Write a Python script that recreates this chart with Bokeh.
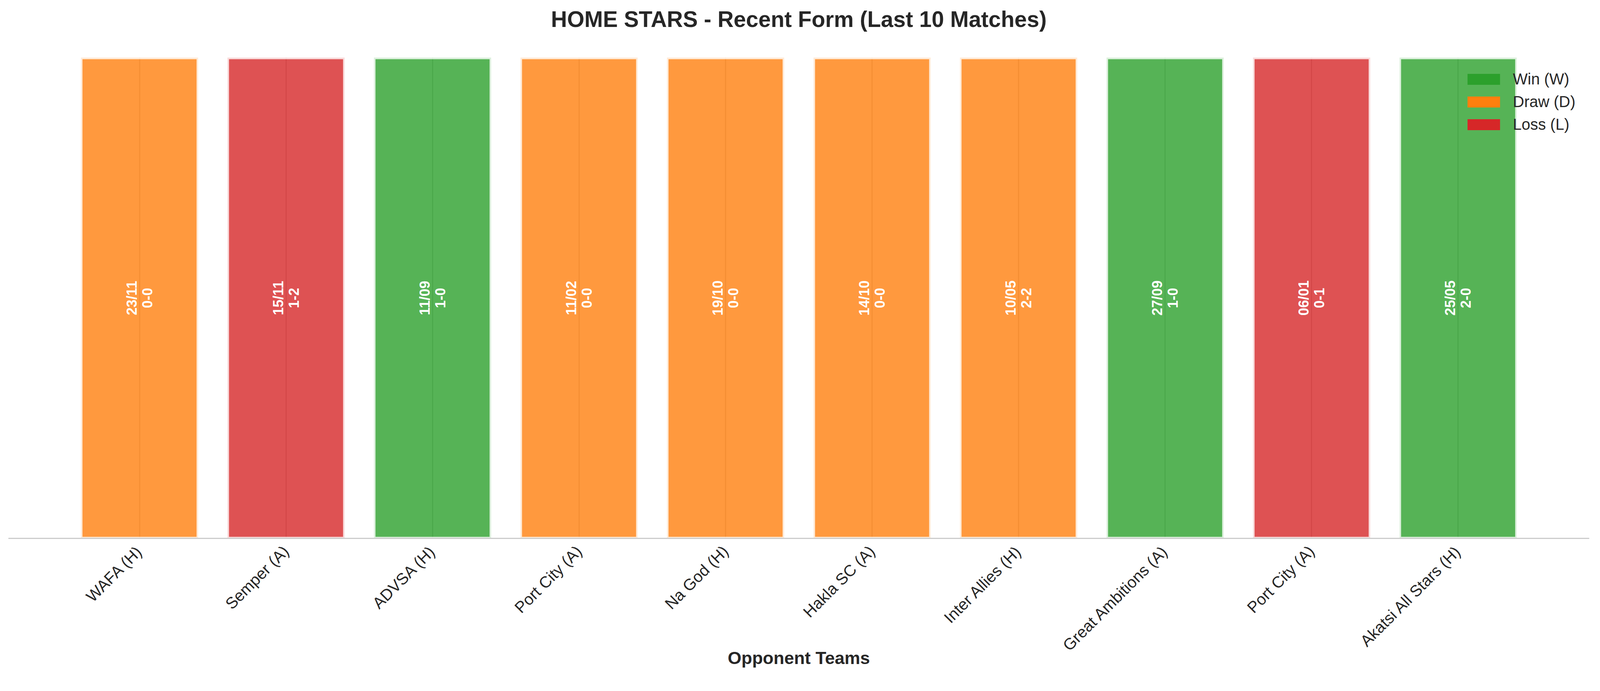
import math
from bokeh.plotting import figure
from bokeh.models import (Range1d, FixedTicker, Legend, LegendItem, ColumnDataSource, CDSView,
                          IndexFilter)
from bokeh.core.properties import value
from bokeh.embed import file_html
from bokeh.resources import INLINE

# ---- data ----
title_text = "HOME STARS - Recent Form (Last 10 Matches)"
opponents = ["WAFA (H)", "Semper (A)", "ADVSA (H)", "Port City (A)", "Na God (H)",
             "Hakla SC (A)", "Inter Allies (H)", "Great Ambitions (A)", "Port City (A)",
             "Akatsi All Stars (H)"]
dates = ["23/11", "15/11", "11/09", "11/02", "19/10", "14/10", "10/05", "27/09", "06/01", "25/05"]
scores = ["0-0", "1-2", "1-0", "0-0", "0-0", "0-0", "2-2", "1-0", "0-1", "2-0"]
results = ["D", "L", "W", "D", "D", "D", "D", "W", "L", "W"]
bar_heights = [1, 1, 1, 1, 1, 1, 1, 1, 1, 1]
result_order = ["W", "D", "L"]
result_names = {"W": "Win (W)", "D": "Draw (D)", "L": "Loss (L)"}
result_colors = {"W": "#2ca02c", "D": "#ff7f0e", "L": "#d62728"}

FONT = "Liberation Sans"
TXT = "#262626"

xs = list(range(len(opponents)))

p = figure(width=4084, height=1720, output_backend="svg", toolbar_location=None,
           x_range=Range1d(-0.895, len(opponents) - 1 + 0.895), y_range=Range1d(0, 1),
           min_border_left=21, min_border_right=16, min_border_top=147, min_border_bottom=343)

p.outline_line_color = None
p.background_fill_color = "white"
p.border_fill_color = "white"

# title (an extra blank line lifts the visible line away from the bars)
p.title.text = title_text + "\n\u00a0"
p.title.align = "center"
p.title.text_font = FONT
p.title.text_font_size = "57px"
p.title.text_font_style = "bold"
p.title.text_color = TXT
p.title.standoff = 5

# bars
src = ColumnDataSource(dict(
    x=xs, top=bar_heights,
    color=[result_colors[r] for r in results],
    label=[d + "\n" + s for d, s in zip(dates, scores)],
))
p.vbar(x="x", top="top", width=0.8, source=src, fill_color="color", fill_alpha=0.8,
       line_color="white", line_alpha=0.8, line_width=8)

p.text(x="x", y=0.5, text="label", source=src, angle=math.pi / 2,
       text_align="center", text_baseline="middle", text_color="white",
       text_font=value(FONT), text_font_size="36px", text_font_style="bold",
       text_line_height=0.98)

# legend: zero-width proxies of each result group (draw nothing in the plot)
items = []
for r in result_order:
    idx = [i for i, res in enumerate(results) if res == r]
    rr = p.vbar(x="x", top="top", width=0, source=src, view=CDSView(filter=IndexFilter(idx)),
                fill_color=result_colors[r], fill_alpha=1.0, line_color=None)
    items.append(LegendItem(label=result_names[r], renderers=[rr]))
legend = Legend(items=items, location="top_right", glyph_width=104, glyph_height=35,
                label_height=35, label_width=162, spacing=13, label_standoff=23,
                padding=10, margin=33,
                border_line_color=None, background_fill_alpha=0,
                label_text_font=FONT, label_text_font_size="40px", label_text_color=TXT)
p.add_layout(legend)

# axes
p.yaxis.visible = False
p.ygrid.visible = False
xa = p.xaxis[0]
xa.ticker = FixedTicker(ticks=xs)
xa.major_label_overrides = {i: n for i, n in zip(xs, opponents)}
xa.major_label_orientation = math.pi / 4
xa.major_label_text_font = FONT
xa.major_label_text_font_size = "41px"
xa.major_label_text_color = TXT
xa.major_label_standoff = 20
xa.major_tick_line_color = None
xa.minor_tick_line_color = None
xa.axis_line_color = "#cccccc"
xa.axis_line_width = 3
xa.axis_label = "Opponent Teams"
xa.axis_label_text_font = FONT
xa.axis_label_text_font_size = "45px"
xa.axis_label_text_font_style = "bold"
xa.axis_label_text_color = TXT
xa.axis_label_standoff = -36

p.xgrid.grid_line_color = "#cccccc"
p.xgrid.grid_line_width = 3

open("out.html", "w").write(file_html(p, INLINE))
